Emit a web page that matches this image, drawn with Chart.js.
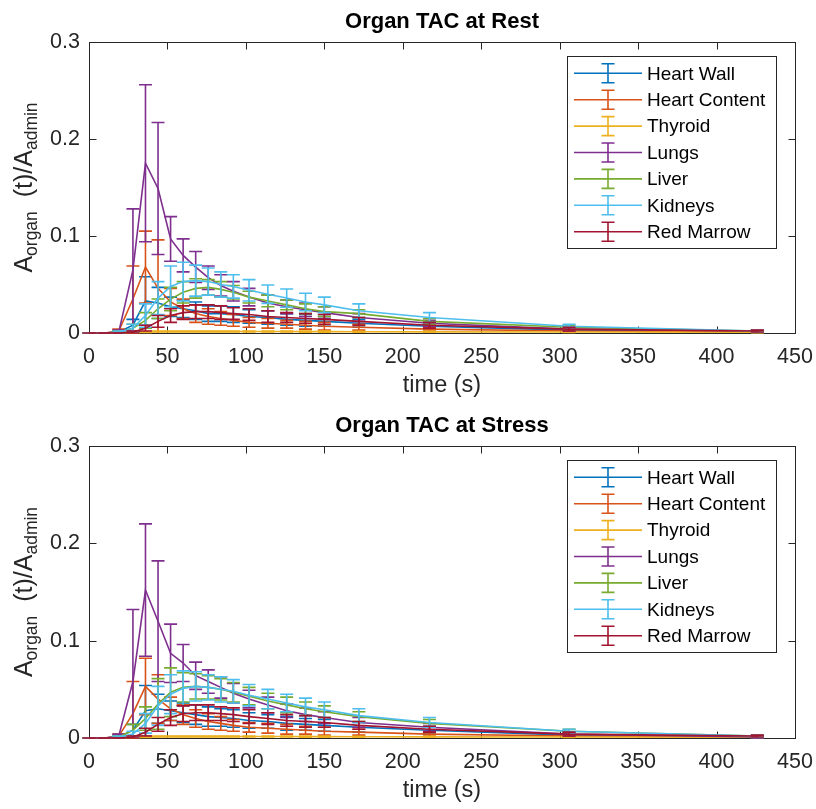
<!DOCTYPE html>
<html>
<head>
<meta charset="utf-8">
<script src="https://cdn.jsdelivr.net/npm/chart.js@4.4.1/dist/chart.umd.min.js"></script>
<style>
  body { margin: 0; background: #fff; }
  canvas { display: block; }
</style>
</head>
<body>
<canvas id="restChart" width="816" height="405"></canvas>
<canvas id="stressChart" width="816" height="404"></canvas>
<script>
// frame mid times (s)
const times = [0, 10, 19, 28, 36, 44, 52, 60, 68, 76, 84, 92, 102, 114, 126, 138, 150, 172, 217, 306, 426];

const organs = ['Heart Wall', 'Heart Content', 'Thyroid', 'Lungs', 'Liver', 'Kidneys', 'Red Marrow'];
const colors = ['#0072BD', '#D95319', '#EDB120', '#7E2F8E', '#77AC30', '#4DBEEE', '#A2142F'];

const xTicks = [0, 50, 100, 150, 200, 250, 300, 350, 400, 450];
const yTicks = [0, 0.1, 0.2, 0.3];

// Rest - means
const restHeartWall    = [0, 0, 0.001, 0.008, 0.033, 0.031, 0.027, 0.025, 0.023, 0.020, 0.020, 0.019, 0.017, 0.016, 0.014, 0.013, 0.012, 0.010, 0.007, 0.003, 0.001];
const restHeartContent = [0, 0, 0.002, 0.035, 0.068, 0.046, 0.032, 0.025, 0.020, 0.017, 0.015, 0.013, 0.011, 0.010, 0.009, 0.008, 0.007, 0.006, 0.004, 0.002, 0.001];
const restThyroid      = [0, 0, 0, 0.0005, 0.001, 0.0015, 0.0015, 0.0015, 0.0015, 0.0015, 0.0015, 0.0015, 0.0015, 0.0015, 0.0015, 0.0014, 0.0014, 0.0013, 0.0012, 0.001, 0.0008];
const restLungs        = [0, 0, 0.001, 0.065, 0.175, 0.149, 0.097, 0.080, 0.068, 0.057, 0.049, 0.043, 0.037, 0.031, 0.027, 0.024, 0.021, 0.016, 0.010, 0.004, 0.002];
const restLiver        = [0, 0, 0.001, 0.005, 0.013, 0.025, 0.035, 0.042, 0.046, 0.047, 0.045, 0.042, 0.037, 0.033, 0.029, 0.025, 0.022, 0.020, 0.012, 0.006, 0.002];
const restKidneys      = [0, 0, 0.001, 0.005, 0.018, 0.036, 0.048, 0.053, 0.054, 0.053, 0.050, 0.048, 0.044, 0.040, 0.036, 0.032, 0.029, 0.023, 0.016, 0.007, 0.002];
const restRedMarrow    = [0, 0, 0, 0.001, 0.005, 0.012, 0.018, 0.021, 0.022, 0.022, 0.021, 0.020, 0.019, 0.017, 0.016, 0.015, 0.014, 0.012, 0.008, 0.004, 0.002];

// Rest - error (+/-)
const restHeartWallErr    = [0, 0, 0.001, 0.006, 0.025, 0.016, 0.010, 0.009, 0.009, 0.008, 0.008, 0.008, 0.007, 0.007, 0.006, 0.006, 0.005, 0.004, 0.003, 0.001, 0.0005];
const restHeartContentErr = [0, 0, 0.002, 0.034, 0.037, 0.050, 0.014, 0.010, 0.009, 0.008, 0.007, 0.006, 0.005, 0.005, 0.004, 0.004, 0.004, 0.003, 0.002, 0.001, 0.0005];
const restThyroidErr      = [0, 0, 0, 0.0005, 0.0005, 0.0005, 0.0005, 0.0005, 0.0005, 0.0005, 0.0005, 0.0005, 0.0005, 0.0005, 0.0005, 0.0005, 0.0005, 0.0005, 0.0005, 0.0005, 0.0005];
const restLungsErr        = [0, 0, 0.002, 0.063, 0.081, 0.068, 0.023, 0.017, 0.016, 0.012, 0.011, 0.010, 0.009, 0.008, 0.007, 0.007, 0.006, 0.004, 0.003, 0.002, 0.001];
const restLiverErr        = [0, 0, 0.001, 0.004, 0.008, 0.010, 0.012, 0.011, 0.010, 0.008, 0.008, 0.007, 0.006, 0.006, 0.005, 0.005, 0.005, 0.004, 0.003, 0.002, 0.001];
const restKidneysErr      = [0, 0, 0.001, 0.004, 0.012, 0.017, 0.021, 0.020, 0.016, 0.014, 0.013, 0.012, 0.011, 0.0095, 0.0094, 0.009, 0.008, 0.007, 0.005, 0.002, 0.001];
const restRedMarrowErr    = [0, 0, 0, 0.001, 0.003, 0.006, 0.007, 0.007, 0.007, 0.007, 0.007, 0.006, 0.006, 0.006, 0.005, 0.005, 0.005, 0.004, 0.003, 0.002, 0.001];

// Stress - means
const stressHeartWall    = [0, 0, 0.001, 0.008, 0.028, 0.030, 0.028, 0.026, 0.024, 0.022, 0.021, 0.020, 0.018, 0.017, 0.015, 0.014, 0.013, 0.011, 0.008, 0.003, 0.001];
const stressHeartContent = [0, 0, 0.002, 0.025, 0.053, 0.040, 0.030, 0.024, 0.020, 0.017, 0.015, 0.013, 0.011, 0.010, 0.009, 0.008, 0.007, 0.006, 0.004, 0.002, 0.001];
const stressThyroid      = [0, 0, 0, 0.0005, 0.001, 0.0015, 0.0015, 0.0015, 0.0015, 0.0015, 0.0015, 0.0015, 0.0015, 0.0015, 0.0015, 0.0014, 0.0014, 0.0013, 0.0012, 0.001, 0.0008];
const stressLungs        = [0, 0, 0.002, 0.058, 0.152, 0.120, 0.087, 0.077, 0.064, 0.058, 0.052, 0.046, 0.040, 0.034, 0.028, 0.024, 0.021, 0.016, 0.011, 0.004, 0.001];
const stressLiver        = [0, 0, 0.001, 0.008, 0.020, 0.035, 0.047, 0.052, 0.053, 0.052, 0.050, 0.047, 0.043, 0.038, 0.034, 0.030, 0.027, 0.022, 0.015, 0.007, 0.002];
const stressKidneys      = [0, 0, 0.001, 0.004, 0.015, 0.033, 0.045, 0.051, 0.053, 0.052, 0.050, 0.048, 0.044, 0.040, 0.036, 0.032, 0.029, 0.023, 0.016, 0.007, 0.002];
const stressRedMarrow    = [0, 0, 0, 0.001, 0.006, 0.014, 0.021, 0.025, 0.026, 0.026, 0.025, 0.024, 0.022, 0.020, 0.018, 0.017, 0.016, 0.013, 0.009, 0.004, 0.002];

// Stress - error (+/-)
const stressHeartWallErr    = [0, 0, 0.001, 0.006, 0.026, 0.015, 0.010, 0.010, 0.010, 0.010, 0.009, 0.009, 0.008, 0.007, 0.007, 0.006, 0.006, 0.005, 0.004, 0.002, 0.001];
const stressHeartContentErr = [0, 0, 0.002, 0.033, 0.029, 0.025, 0.012, 0.010, 0.009, 0.008, 0.007, 0.006, 0.005, 0.005, 0.005, 0.004, 0.004, 0.003, 0.002, 0.001, 0.0005];
const stressThyroidErr      = [0, 0, 0, 0.0005, 0.0005, 0.0005, 0.0005, 0.0005, 0.0005, 0.0005, 0.0005, 0.0005, 0.0005, 0.0005, 0.0005, 0.0005, 0.0005, 0.0005, 0.0005, 0.0005, 0.0005];
const stressLungsErr        = [0, 0, 0.002, 0.074, 0.068, 0.062, 0.030, 0.019, 0.014, 0.012, 0.011, 0.010, 0.009, 0.008, 0.007, 0.007, 0.006, 0.005, 0.004, 0.002, 0.001];
const stressLiverErr        = [0, 0, 0.001, 0.006, 0.012, 0.026, 0.025, 0.015, 0.013, 0.012, 0.011, 0.010, 0.009, 0.008, 0.008, 0.007, 0.006, 0.005, 0.004, 0.002, 0.001];
const stressKidneysErr      = [0, 0, 0.001, 0.003, 0.010, 0.020, 0.020, 0.018, 0.015, 0.013, 0.013, 0.012, 0.011, 0.010, 0.009, 0.009, 0.008, 0.007, 0.005, 0.002, 0.001];
const stressRedMarrowErr    = [0, 0, 0, 0.001, 0.004, 0.007, 0.008, 0.008, 0.008, 0.008, 0.007, 0.007, 0.007, 0.006, 0.006, 0.006, 0.005, 0.004, 0.003, 0.002, 0.001];

const FONT = "'Liberation Sans', Arial, Helvetica, sans-serif";
const INK = '#262626';
const LW = 1.6;

// vertical error bars with caps, drawn right after each line
const errorBars = {
    id: 'errorBars',
    afterDatasetDraw(chart, args) {
        const ds = chart.data.datasets[args.index];
        const xs = chart.scales.x, ys = chart.scales.y;
        const ctx = chart.ctx;
        ctx.save();
        ctx.strokeStyle = ds.borderColor;
        ctx.lineWidth = LW;
        ds.data.forEach((p, i) => {
            const e = ds.errors[i];
            const x = xs.getPixelForValue(p.x);
            const yTop = ys.getPixelForValue(p.y + e);
            const low = p.y - e;
            const yBot = low < 0 ? ys.bottom : ys.getPixelForValue(low);
            ctx.beginPath();
            ctx.moveTo(x, yTop); ctx.lineTo(x, yBot);
            ctx.moveTo(x - 6.5, yTop); ctx.lineTo(x + 6.5, yTop);
            if (low >= 0) { ctx.moveTo(x - 6.5, yBot); ctx.lineTo(x + 6.5, yBot); }
            ctx.stroke();
        });
        ctx.restore();
    }
};

// matlab style box, inward ticks, legend, titles
const matlabFrame = {
    id: 'matlabFrame',
    beforeDatasetsDraw(chart) {
        const { ctx, chartArea: a, scales: { x, y } } = chart;
        ctx.save();
        ctx.strokeStyle = INK;
        ctx.lineWidth = 1;
        const L = Math.round(a.left) + 0.5, T = Math.round(a.top) + 0.5;
        const R = Math.round(a.right) + 0.5, B = Math.round(a.bottom) + 0.5;
        ctx.strokeRect(L, T, R - L, B - T);
        ctx.beginPath();
        xTicks.forEach(v => {
            const px = Math.round(x.getPixelForValue(v)) + 0.5;
            ctx.moveTo(px, B); ctx.lineTo(px, B - 7);
            ctx.moveTo(px, T); ctx.lineTo(px, T + 7);
        });
        yTicks.forEach(v => {
            const py = Math.round(y.getPixelForValue(v)) + 0.5;
            ctx.moveTo(L, py); ctx.lineTo(L + 7, py);
            ctx.moveTo(R, py); ctx.lineTo(R - 7, py);
        });
        ctx.stroke();
        ctx.restore();
    },
    afterDraw(chart, args, opts) {
        const { ctx, chartArea: a } = chart;
        ctx.save();

        // title
        ctx.fillStyle = '#000';
        ctx.font = 'bold 22px ' + FONT;
        ctx.textAlign = 'center';
        ctx.textBaseline = 'alphabetic';
        ctx.fillText(opts.title, (a.left + a.right) / 2, a.top - 14.5);

        // x label
        ctx.fillStyle = INK;
        ctx.font = '23.5px ' + FONT;
        ctx.fillText('time (s)', (a.left + a.right) / 2, a.bottom + 59);

        // y label with subscripts
        const parts = [
            { t: 'A', s: 25, dy: 0 },
            { t: 'organ', s: 17.5, dy: 5 },
            { t: '  (t)/A', s: 25, dy: 0 },
            { t: 'admin', s: 17.5, dy: 5 }
        ];
        let total = 0;
        parts.forEach(p => { ctx.font = p.s + 'px ' + FONT; p.w = ctx.measureText(p.t).width; total += p.w; });
        ctx.translate(32, (a.top + a.bottom) / 2);
        ctx.rotate(-Math.PI / 2);
        ctx.textAlign = 'left';
        let cx = -total / 2;
        parts.forEach(p => {
            ctx.font = p.s + 'px ' + FONT;
            ctx.fillText(p.t, cx, p.dy);
            cx += p.w;
        });
        ctx.setTransform(1, 0, 0, 1, 0, 0);

        // legend
        const lx = Math.round(a.right) - 228, ly = Math.round(a.top) + 14;
        const lw = 209, lh = 192;
        ctx.fillStyle = '#fff';
        ctx.fillRect(lx, ly, lw, lh);
        ctx.strokeStyle = INK;
        ctx.lineWidth = 1;
        ctx.strokeRect(lx + 0.5, ly + 0.5, lw, lh);
        ctx.font = '19px ' + FONT;
        ctx.textAlign = 'left';
        ctx.textBaseline = 'middle';
        chart.data.datasets.forEach((ds, k) => {
            const yy = ly + 17.3 + k * 26.4;
            const gx = lx + 41;
            ctx.strokeStyle = ds.borderColor;
            ctx.lineWidth = LW;
            ctx.beginPath();
            ctx.moveTo(lx + 7, yy); ctx.lineTo(lx + 75, yy);
            ctx.moveTo(gx, yy - 9.5); ctx.lineTo(gx, yy + 9.5);
            ctx.moveTo(gx - 6.5, yy - 9.5); ctx.lineTo(gx + 6.5, yy - 9.5);
            ctx.moveTo(gx - 6.5, yy + 9.5); ctx.lineTo(gx + 6.5, yy + 9.5);
            ctx.stroke();
            ctx.fillStyle = '#000';
            ctx.fillText(ds.label, lx + 80, yy + 1);
        });
        ctx.restore();
    }
};

function makeChart(id, title, means, errs, topPad) {
    const canvas = document.getElementById(id);
    const datasets = organs.map((name, k) => ({
        label: name,
        data: times.map((t, i) => ({ x: t, y: means[k][i] })),
        errors: errs[k],
        borderColor: colors[k],
        backgroundColor: colors[k],
        borderWidth: LW,
        pointRadius: 0,
        tension: 0,
        fill: false,
        clip: 4,
        order: organs.length - k
    }));
    return new Chart(canvas.getContext('2d'), {
        type: 'line',
        data: { datasets },
        options: {
            responsive: false,
            animation: false,
            events: [],
            layout: { padding: { top: topPad, right: 21, left: 0, bottom: 0 } },
            scales: {
                x: {
                    type: 'linear',
                    min: 0,
                    max: 450,
                    afterBuildTicks: s => { s.ticks = xTicks.map(v => ({ value: v })); },
                    ticks: { color: INK, font: { family: FONT, size: 21.5 }, padding: 11, maxRotation: 0, autoSkip: false },
                    grid: { display: false, drawTicks: false },
                    border: { display: false },
                    afterFit: s => { s.height = canvas.height - 333; s.paddingLeft = 0; s.paddingRight = 0; }
                },
                y: {
                    min: 0,
                    max: 0.3,
                    afterBuildTicks: s => { s.ticks = yTicks.map(v => ({ value: v })); },
                    ticks: { color: INK, font: { family: FONT, size: 21.5 }, padding: 9, callback: v => String(Math.round(v * 10) / 10) },
                    grid: { display: false, drawTicks: false },
                    border: { display: false },
                    afterFit: s => { s.width = 89; s.paddingTop = 0; s.paddingBottom = 0; }
                }
            },
            plugins: {
                legend: { display: false },
                tooltip: { enabled: false },
                title: { display: false },
                matlabFrame: { title: title }
            }
        },
        plugins: [errorBars, matlabFrame]
    });
}

makeChart('restChart', 'Organ TAC at Rest',
    [restHeartWall, restHeartContent, restThyroid, restLungs, restLiver, restKidneys, restRedMarrow],
    [restHeartWallErr, restHeartContentErr, restThyroidErr, restLungsErr, restLiverErr, restKidneysErr, restRedMarrowErr],
    42);

makeChart('stressChart', 'Organ TAC at Stress',
    [stressHeartWall, stressHeartContent, stressThyroid, stressLungs, stressLiver, stressKidneys, stressRedMarrow],
    [stressHeartWallErr, stressHeartContentErr, stressThyroidErr, stressLungsErr, stressLiverErr, stressKidneysErr, stressRedMarrowErr],
    41);
</script>
</body>
</html>
